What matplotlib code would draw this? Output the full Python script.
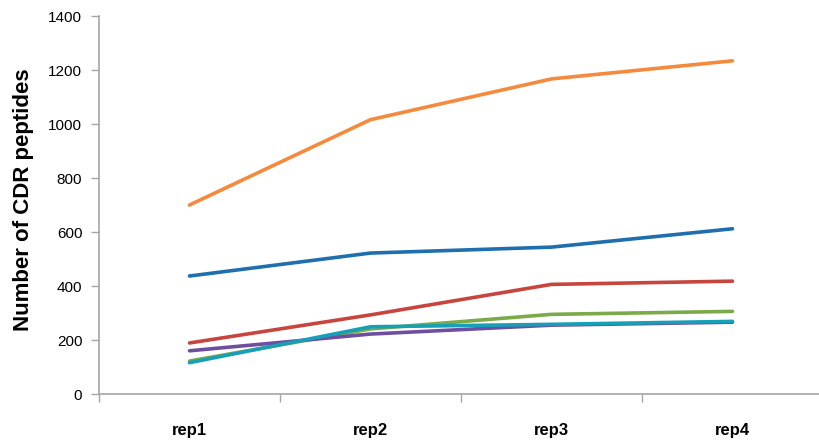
import matplotlib.pyplot as plt
import numpy as np

plt.rcParams.update({"font.family": "Liberation Sans"})

reps = ["rep1", "rep2", "rep3", "rep4"]

# CDR peptide counts per replicate, one list per series
blue = [437, 522, 544, 612]
red = [189, 293, 406, 418]
green = [122, 241, 295, 306]
purple = [160, 222, 255, 266]
teal = [116, 249, 258, 269]
orange = [700, 1016, 1167, 1234]

series = [
    (blue, "#1f6fae"),
    (red, "#c8453e"),
    (green, "#7aab48"),
    (purple, "#6e4e9e"),
    (teal, "#16a0b8"),
    (orange, "#f58a3c"),
]

fig = plt.figure(figsize=(8.19, 4.42), dpi=100)
ax = fig.add_axes([99 / 819, 48 / 442, 724 / 819, 378 / 442])

x = np.arange(len(reps))
for vals, col in series:
    ax.plot(x, vals, color=col, linewidth=2.6, solid_capstyle="round")

ax.set_xlim(-0.5, len(reps) - 0.5)
ax.set_ylim(0, 1400)
ax.set_yticks(np.arange(0, 1401, 200))

# category boundaries get the tick marks, names sit in between
ax.set_xticks(np.arange(-0.5, len(reps), 1.0))
ax.set_xticklabels([])
ax.set_xticks(x, minor=True)
ax.set_xticklabels(reps, minor=True, fontsize=12, fontweight="bold")
ax.tick_params(axis="x", which="minor", length=0, pad=21)

axis_grey = "#a6a6a6"
ax.tick_params(axis="both", which="major", color=axis_grey, length=6, width=1)
ax.tick_params(axis="y", labelsize=11, pad=6)
for side in ["top", "right"]:
    ax.spines[side].set_visible(False)
for side in ["left", "bottom"]:
    ax.spines[side].set_color(axis_grey)
    ax.spines[side].set_linewidth(1.2)

ax.set_ylabel("Number of CDR peptides", fontsize=16, fontweight="bold")
ax.yaxis.set_label_coords(-0.09, 0.515)

fig.savefig("out.png", dpi=100)
